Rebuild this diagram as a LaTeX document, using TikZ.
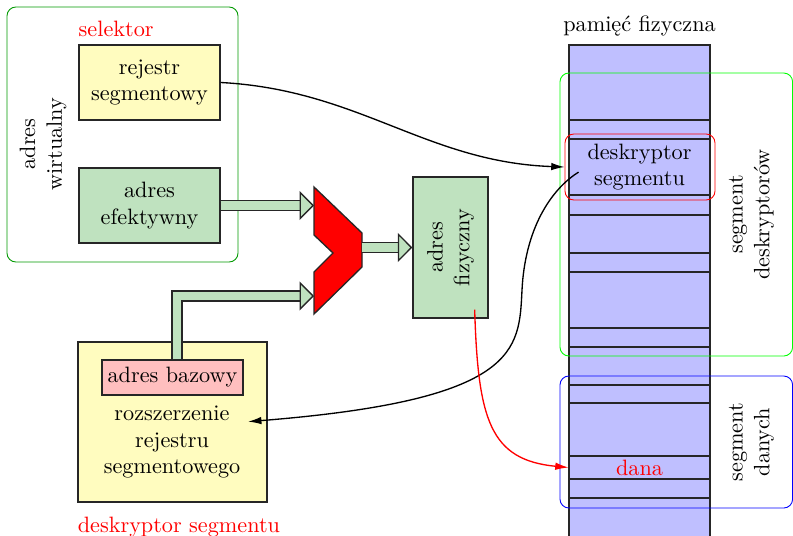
\documentclass[tikz,border=0pt]{standalone}
\usetikzlibrary{arrows.meta,positioning}
\definecolor{adrgreen}{RGB}{191,226,191}

\begin{document}
\begin{tikzpicture}[x=0.45pt, y=0.45pt,
  box/.style={rectangle, draw=black!85, semithick, align=center},
  reg/.style={box, fill=yellow!25, minimum width=63.5pt, minimum height=33.8pt},
  adr/.style={box, fill=adrgreen},
  frame/.style={rounded corners=4pt, thin},
  tag/.style={red, inner xsep=0pt},
  side/.style={rotate=90, align=center},
  cell/.style={minimum width=63.45pt, inner sep=0pt, align=center},
  fat/.style={draw=black!85, semithick, double=adrgreen, double distance=3.9pt,
    -{Triangle[length=6.5pt, width=13pt, fill=adrgreen, line width=0.6pt]}},
  link/.style={semithick, -{Latex[length=6pt, width=3.4pt]}}
]
  \useasboundingbox (0,0) rectangle (793,-535);

  %% ── Virtual address: selector + effective address ─────────────────────────
  \draw[frame, green!60!black] (7,-7) rectangle (238,-262);
  \node[side] (virt) at (43,-144) {adres\\wirtualny};
  \node[reg] (rej) at (149.5,-82.5) {rejestr\\segmentowy};
  \node[tag, anchor=south west] (sel) at (rej.north west) {selektor};
  \node[adr, minimum width=63.5pt, minimum height=33.8pt] (ef) at (149.5,-205.5) {adres\\efektywny};

  %% ── Segment register extension ───────────────────────────────────────────
  \node[box, fill=yellow!25, minimum width=85pt, minimum height=72pt] (ext) at (172.5,-422) {};
  \node[box, fill=red!25, inner xsep=2.5pt, minimum height=14.9pt] (base) at (172.5,-377.5) {adres bazowy};
  \node[align=center] (extlbl) at (172,-442) {rozszerzenie\\rejestru\\segmentowego};
  \node[tag, anchor=north west] (dlbl) at ([yshift=-3pt]ext.south west) {deskryptor segmentu};

  %% ── Adder and physical address ───────────────────────────────────────────
  \draw[draw=black!85, semithick, fill=red] (314,-187) -- (362,-233) -- (362,-267)
    -- (314,-314) -- (314,-272) -- (333,-253) -- (314,-235) -- cycle;
  \coordinate (in1) at (314,-205.5);
  \coordinate (in2) at (314,-296);
  \coordinate (out) at (362,-247.5);
  \node[adr, side, minimum width=63.45pt, minimum height=33.75pt] (fiz) at (450.5,-247.5) {adres\\fizyczny};

  %% ── Physical memory ──────────────────────────────────────────────────────
  \node[box, fill=blue!25, minimum width=63.45pt, minimum height=225pt, inner sep=0pt] (mem) at (639.5,-295) {};
  \node[above=0pt of mem] (memlbl) {pami\k{e}\'c fizyczna};
  \foreach \y in {120,139,195,215,253,272,328,347,385,403,456,479,498}
    \draw[semithick, black!85] (mem.west |- 0,-\y) -- (mem.east |- 0,-\y);
  \node[cell] (desk) at (639.5,-167) {deskryptor\\segmentu};
  \node[cell, red, minimum height=10.35pt] (dana) at (639.5,-467.5) {dana};

  \draw[frame, green] (560,-73) rectangle (792.6,-356);
  \draw[frame, blue] (560,-376) rectangle (792.6,-508);
  \node[side] (segd) at (751.5,-214.5) {segment\\deskryptorów};
  \node[side] (segn) at (751.5,-442) {segment\\danych};
  \node[draw=red, rounded corners=4pt, minimum width=67.5pt, minimum height=29.7pt] (descbox) at (640,-167) {};

  %% ── Connections ──────────────────────────────────────────────────────────
  \draw[fat] (ef.east) -- (in1);
  \draw[fat] ([xshift=2pt]base.north) |- (in2);
  \draw[fat] (out) -- (fiz.north);
  % selector -> descriptor
  \draw[link] (rej.east) to[out=-3, in=178] (descbox.west);
  % descriptor -> register extension
  \draw[link] ([xshift=4.5pt, yshift=-2.3pt]desk.west) .. controls (550,-190) and (525,-230) .. (522,-290)
    .. controls (519,-350) and (520,-400) .. (extlbl.15);
  % physical address -> data
  \draw[link, red] ([shift={(-14,9)}]fiz.south west) .. controls (478,-420) and (490,-460) .. (dana.west);
\end{tikzpicture}
\end{document}
